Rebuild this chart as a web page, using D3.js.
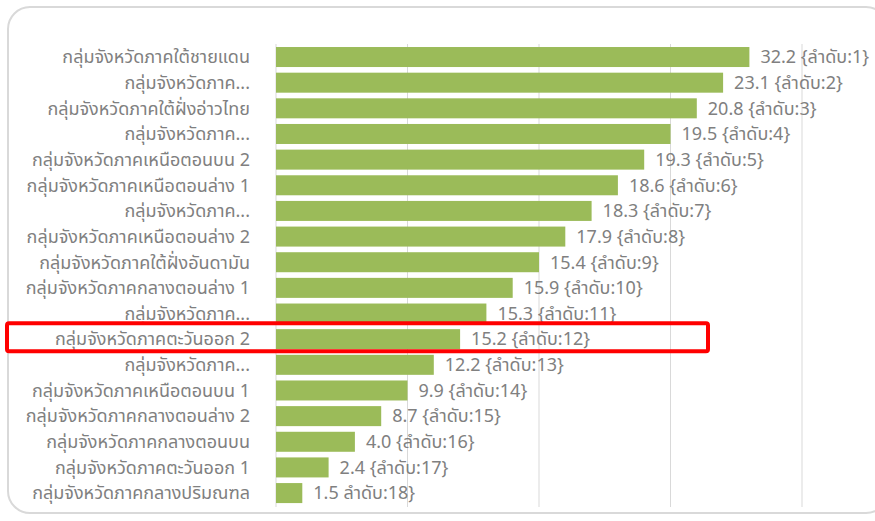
<!DOCTYPE html>
<html>
<head>
<meta charset="utf-8">
<script src="https://cdn.jsdelivr.net/npm/d3@7"></script>
<style>
  html, body { margin: 0; padding: 0; background: #fff; }
  svg { display: block; }
  text { font-family: "Noto Sans Thai", "Noto Sans", "DejaVu Sans", sans-serif; }
</style>
</head>
<body>
<div id="chart"></div>
<script>
// Region groups, top to bottom
const groups = [
  "กลุ่มจังหวัดภาคใต้ชายแดน",
  "กลุ่มจังหวัดภาค...",
  "กลุ่มจังหวัดภาคใต้ฝั่งอ่าวไทย",
  "กลุ่มจังหวัดภาค...",
  "กลุ่มจังหวัดภาคเหนือตอนบน 2",
  "กลุ่มจังหวัดภาคเหนือตอนล่าง 1",
  "กลุ่มจังหวัดภาค...",
  "กลุ่มจังหวัดภาคเหนือตอนล่าง 2",
  "กลุ่มจังหวัดภาคใต้ฝั่งอันดามัน",
  "กลุ่มจังหวัดภาคกลางตอนล่าง 1",
  "กลุ่มจังหวัดภาค...",
  "กลุ่มจังหวัดภาคตะวันออก 2",
  "กลุ่มจังหวัดภาค...",
  "กลุ่มจังหวัดภาคเหนือตอนบน 1",
  "กลุ่มจังหวัดภาคกลางตอนล่าง 2",
  "กลุ่มจังหวัดภาคกลางตอนบน",
  "กลุ่มจังหวัดภาคตะวันออก 1",
  "กลุ่มจังหวัดภาคกลางปริมณฑล"
];
const values = [32.2, 23.1, 20.8, 19.5, 19.3, 18.6, 18.3, 17.9, 15.4, 15.9, 15.3, 15.2, 12.2, 9.9, 8.7, 4.0, 2.4, 1.5];
const ranks = [1, 2, 3, 4, 5, 6, 7, 8, 9, 10, 11, 12, 13, 14, 15, 16, 17, 18];
// label text as printed on the chart (last one lacks its opening brace)
const valueLabels = values.map((v, i) =>
  i === values.length - 1 ? `${v.toFixed(1)} ลำดับ:${ranks[i]}}` : `${v.toFixed(1)} {ลำดับ:${ranks[i]}}`);
const xTicks = [0, 5, 10, 15, 20];
const highlighted = 11; // index of the boxed row

const W = 875, H = 521;
const margin = { top: 44, left: 276, right: 73, bottom: 14 };

const svg = d3.select("#chart").append("svg")
  .attr("width", W)
  .attr("height", H);

// outer frame
svg.append("rect")
  .attr("x", 8).attr("y", 7)
  .attr("width", 880).attr("height", 506)
  .attr("rx", 22).attr("ry", 22)
  .attr("fill", "none")
  .attr("stroke", "#d9d9d9")
  .attr("stroke-width", 2);

const data = groups.map((g, i) => ({ name: g, key: i, value: values[i], rank: ranks[i], label: valueLabels[i] }));
const maxRank = d3.max(ranks);

// bars are ordered by rank: bar length = maxRank + 1 - rank
const x = d3.scaleLinear()
  .domain([0, 20])
  .range([margin.left, W - margin.right]);

const y = d3.scaleBand()
  .domain(data.map(d => d.key))
  .range([44.2, 505.9])
  .paddingInner(0.22)
  .paddingOuter(0.11);

// gridlines
svg.append("g")
  .selectAll("line")
  .data(xTicks)
  .join("line")
  .attr("x1", d => x(d)).attr("x2", d => x(d))
  .attr("y1", margin.top).attr("y2", 507)
  .attr("stroke", "#d9d9d9")
  .attr("stroke-width", 1);

// bars
svg.append("g")
  .selectAll("rect")
  .data(data)
  .join("rect")
  .attr("x", x(0))
  .attr("y", d => y(d.key))
  .attr("width", d => x(maxRank + 1 - d.rank) - x(0))
  .attr("height", y.bandwidth())
  .attr("fill", "#9bbb59");

// category labels
svg.append("g")
  .selectAll("text")
  .data(data)
  .join("text")
  .attr("x", 250)
  .attr("y", d => y(d.key) + y.bandwidth() / 2)
  .attr("dy", "0.35em")
  .attr("text-anchor", "end")
  .attr("font-size", 18)
  .attr("fill", "#808080")
  .text(d => d.name);

// value labels
svg.append("g")
  .selectAll("text")
  .data(data)
  .join("text")
  .attr("x", d => x(maxRank + 1 - d.rank) + 11)
  .attr("y", d => y(d.key) + y.bandwidth() / 2)
  .attr("dy", "0.35em")
  .attr("font-size", 18)
  .attr("fill", "#808080")
  .text(d => d.label);

// red highlight box
const hb = data[highlighted];
svg.append("rect")
  .attr("x", 7)
  .attr("y", y(hb.key) - 6)
  .attr("width", 701)
  .attr("height", y.bandwidth() + 8)
  .attr("rx", 2)
  .attr("fill", "none")
  .attr("stroke", "#ff0000")
  .attr("stroke-width", 4);
</script>
</body>
</html>
